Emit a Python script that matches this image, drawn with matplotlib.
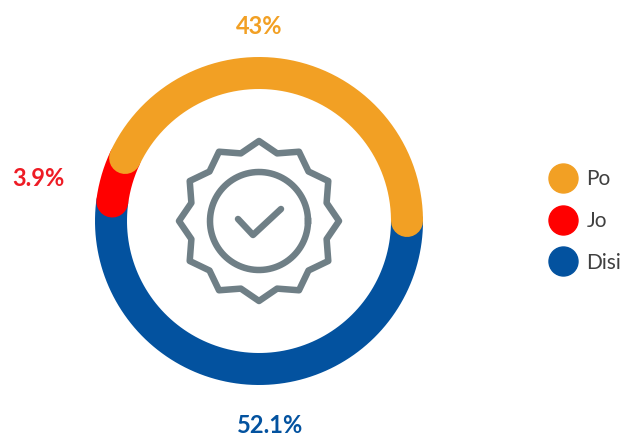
import numpy as np
import matplotlib
matplotlib.use("Agg")
import matplotlib.pyplot as plt
from matplotlib.lines import Line2D

# Data
categories = ["Po", "Jo", "Disi"]
shares = [43, 3.9, 52.1]
share_labels = ["43%", "3.9%", "52.1%"]
colors = ["#F2A024", "#FF0000", "#03529F"]
label_colors = ["#F2A024", "#EE1C25", "#03529F"]

plt.rcParams['font.family'] = ['Lato', 'DejaVu Sans']

# Layout, in pixels of the 622x436 image
cx, cy = 259, 221
ring_r = 148
ring_w = 32
label_pos = [(259, 27), (38, 178), (270, 425)]
px = 72 / 100  # one pixel in points

fig = plt.figure(figsize=(6.22, 4.36), dpi=100)
ax = fig.add_axes([0, 0, 1, 1])
ax.set_xlim(0, 622)
ax.set_ylim(436, 0)
ax.axis("off")


def arc(start, end, r=ring_r):
    t = np.radians(np.linspace(start, end, 200))
    return cx + r * np.cos(t), cy - r * np.sin(t)


# Ring, clockwise from the east. The labels only add up to 99%, and in the
# original Jo fills whatever Disi and Po leave over
disi_end = -360 * shares[2] / 100
po_start = -360 + 360 * shares[0] / 100
spans = [(po_start, -360), (disi_end, po_start), (0, disi_end)]
for i in [2, 1, 0]:
    x, y = arc(*spans[i])
    ax.plot(x, y, color=colors[i], lw=ring_w * px, solid_capstyle="round", zorder=2 + (2 - i))

for lab, pos, c in zip(share_labels, label_pos, label_colors):
    ax.text(pos[0], pos[1], lab, color=c, fontsize=17, fontweight="bold", ha="center", va="center")

# Badge icon in the middle
icon_color = "#6F7F86"
star_angles = np.radians(np.arange(0, 360, 15))
star_radii = np.where(np.arange(24) % 2 == 0, 80, 70)
star_x = cx + star_radii * np.cos(star_angles)
star_y = cy - star_radii * np.sin(star_angles)
ax.fill(star_x, star_y, fill=False, edgecolor=icon_color, lw=6.5 * px, joinstyle="round")
x, y = arc(0, 360, 49)
ax.plot(x, y, color=icon_color, lw=6.5 * px)
check_x = [cx - 21, cx - 6, cx + 22]
check_y = [cy - 2, cy + 14, cy - 12]
ax.plot(check_x, check_y, color=icon_color, lw=6.5 * px, solid_capstyle="round", solid_joinstyle="round")

# Legend
handles = [Line2D([], [], ls="", marker="o", ms=29 * px, color=c) for c in colors]
leg = ax.legend(handles, categories, loc="center left", bbox_to_anchor=(548 / 622, 1 - 221 / 436),
                frameon=False, labelspacing=1.04, handletextpad=0.45, labelcolor="#404040",
                handlelength=1.4, borderpad=0, borderaxespad=0,
                prop={"family": "Lato", "size": 15})

fig.savefig("out.png", dpi=100)
